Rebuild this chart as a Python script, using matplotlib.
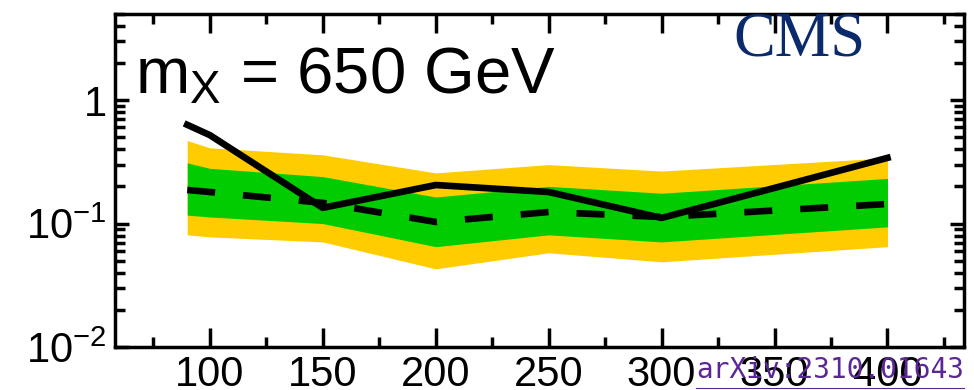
import matplotlib
matplotlib.use("Agg")
import matplotlib.pyplot as plt
from matplotlib.ticker import FixedLocator, LogLocator, NullFormatter

plt.rcParams['font.family'] = ['Liberation Sans', 'DejaVu Sans']
plt.rcParams['mathtext.fontset'] = 'custom'
plt.rcParams['mathtext.rm'] = 'Liberation Sans'
plt.rcParams['mathtext.it'] = 'Liberation Sans'

# Data
mass = [90, 100, 150, 200, 250, 300, 400]
observed = [0.63, 0.52, 0.134, 0.205, 0.18, 0.111, 0.34]
expected = [0.187, 0.18, 0.147, 0.103, 0.124, 0.113, 0.144]
sig1_up = [0.31, 0.28, 0.24, 0.164, 0.20, 0.176, 0.232]
sig1_dn = [0.117, 0.113, 0.10, 0.065, 0.081, 0.071, 0.094]
sig2_up = [0.47, 0.41, 0.36, 0.257, 0.30, 0.266, 0.34]
sig2_dn = [0.081, 0.078, 0.071, 0.043, 0.058, 0.049, 0.065]
xticks = [100, 150, 200, 250, 300, 350, 400]

fig = plt.figure(figsize=(9.74, 3.9), dpi=100)
ax = fig.add_axes([0.118, 0.110, 0.872, 0.855])

ax.fill_between(mass, sig2_dn, sig2_up, color='#ffcc00', lw=0)
ax.fill_between(mass, sig1_dn, sig1_up, color='#00cc00', lw=0)
ax.plot(mass, expected, color='black', lw=4.8, dashes=(4.2, 4.2))
ax.plot(mass, observed, color='black', lw=4.8)

ax.set_yscale('log')
ax.set_xlim(58, 434)
ax.set_ylim(0.01, 5)

ax.xaxis.set_major_locator(FixedLocator(xticks))
ax.xaxis.set_minor_locator(FixedLocator([75, 125, 175, 225, 275, 325, 375, 425]))
ax.set_xticklabels([str(t) for t in xticks])
ax.yaxis.set_major_locator(FixedLocator([0.01, 0.1, 1]))
ax.set_yticklabels([r'$10^{-2}$', r'$10^{-1}$', '1'])
ax.yaxis.set_minor_locator(LogLocator(base=10, subs=range(2, 10)))
ax.yaxis.set_minor_formatter(NullFormatter())

ax.tick_params(axis='both', which='major', direction='in', top=True, right=True,
               labelsize=30, width=2.5, length=14, pad=6)
ax.tick_params(axis='x', which='major', length=14)
ax.tick_params(axis='y', which='major', length=10)
ax.tick_params(axis='both', which='minor', direction='in', top=True, right=True,
               width=2.5, length=7)
for s in ax.spines.values():
    s.set_linewidth(2.5)

ax.text(0.024, 0.81, r'm$_{\mathrm{X}}$ = 650 GeV', transform=ax.transAxes,
        fontsize=47, ha='left', va='center')
ax.text(0.806, 1.005, 'CMS', transform=ax.transAxes, fontsize=45,
        family='Liberation Serif', color='#0b2a6b', ha='center', va='top')

fig.text(0.99, 0.015, 'arXiv:2310.01643', fontsize=20, family='DejaVu Sans Mono',
         color='#5b2696', ha='right', va='bottom')
fig.lines.append(plt.Line2D([0.715, 0.99], [0.006, 0.006], transform=fig.transFigure,
                            color='#5b2696', lw=0.8))

fig.savefig('out.png', dpi=100)
